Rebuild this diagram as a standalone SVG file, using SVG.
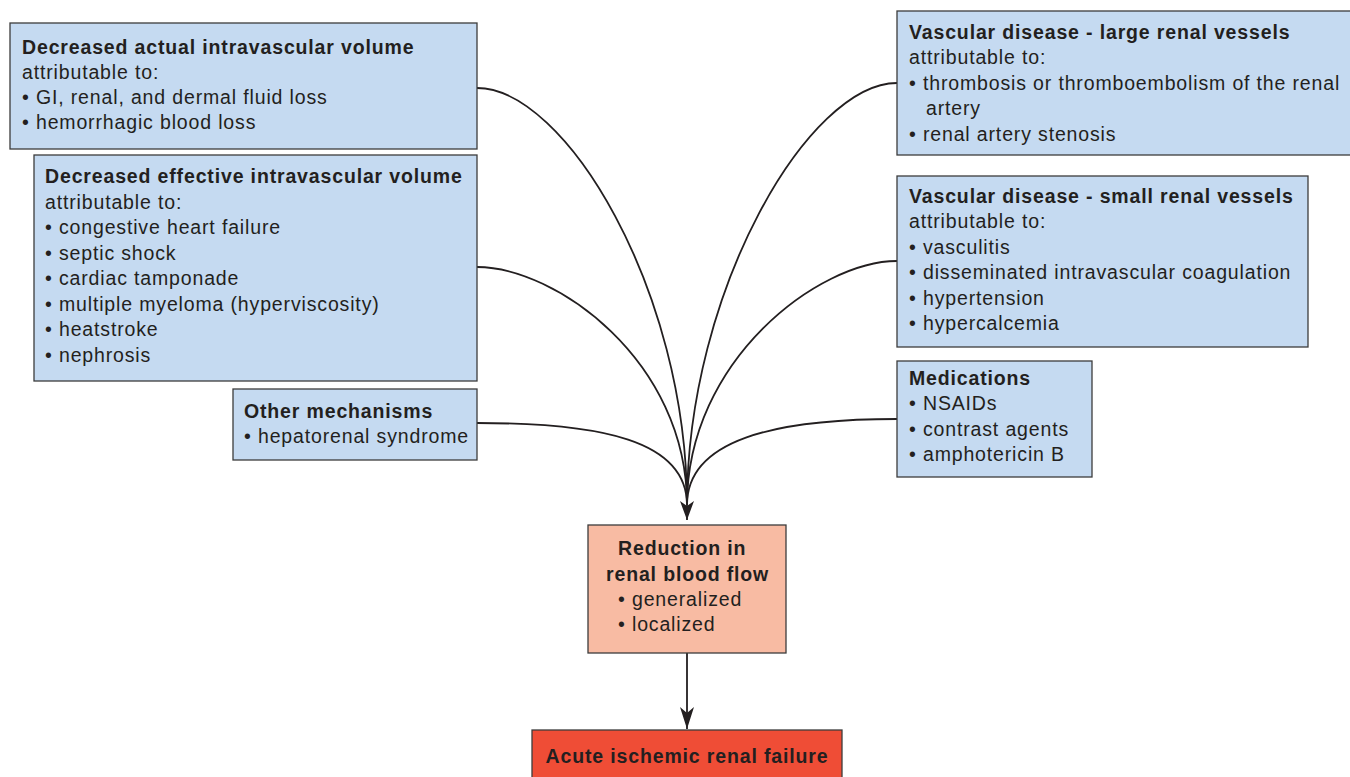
<svg xmlns="http://www.w3.org/2000/svg" width="1350" height="777" viewBox="0 0 1350 777">
<defs>
<style>
.box{fill:#c5daf1;stroke:#3c3c3c;stroke-width:1.3}
.mid{fill:#f8bba3;stroke:#3c3c3c;stroke-width:1.3}
.end{fill:#ef4d36;stroke:#3c3c3c;stroke-width:1.3}
text{font-family:"Liberation Sans",Arial,Helvetica,sans-serif;font-size:19.5px;letter-spacing:0.85px;fill:#231f20}
.b{font-weight:bold}
.c{fill:none;stroke:#231f20;stroke-width:1.8}
</style>
<marker id="ah" viewBox="0 0 22 14" refX="22" refY="7" markerWidth="22" markerHeight="14" markerUnits="userSpaceOnUse" orient="auto">
<path d="M22,7 L0,0 L6,7 L0,14 Z" fill="#231f20"/>
</marker>
<marker id="ah2" viewBox="0 0 19 14" refX="19" refY="7" markerWidth="19" markerHeight="14" markerUnits="userSpaceOnUse" orient="auto">
<path d="M19,7 L0,0 L5,7 L0,14 Z" fill="#231f20"/>
</marker>
</defs>
<rect width="1350" height="777" fill="#ffffff"/>

<g id="connectors">
<path class="c" d="M477,88 C565,88 687,290 687,505"/>
<path class="c" d="M477,267 C555,267 687,360 687,505"/>
<path class="c" d="M477,423 C600,423 687,440 687,505"/>
<path class="c" d="M897,83 C809,83 687,290 687,505"/>
<path class="c" d="M897,261 C819,261 687,360 687,505"/>
<path class="c" d="M897,419 C774,419 687,440 687,505"/>
<path class="c" d="M687,498 L687,520" marker-end="url(#ah2)"/>
<path class="c" d="M687,653 L687,729" marker-end="url(#ah)"/>
</g>

<g id="actual-volume">
<rect class="box" x="10" y="23" width="467" height="126"/>
<text class="b" x="22" y="54">Decreased actual intravascular volume</text>
<text x="22" y="79">attributable to:</text>
<text x="22" y="104">• GI, renal, and dermal fluid loss</text>
<text x="22" y="129">• hemorrhagic blood loss</text>
</g>

<g id="effective-volume">
<rect class="box" x="34" y="155" width="443" height="226"/>
<text class="b" x="45" y="183">Decreased effective intravascular volume</text>
<text x="45" y="208.5">attributable to:</text>
<text x="45" y="234">• congestive heart failure</text>
<text x="45" y="259.5">• septic shock</text>
<text x="45" y="285">• cardiac tamponade</text>
<text x="45" y="310.5">• multiple myeloma (hyperviscosity)</text>
<text x="45" y="336">• heatstroke</text>
<text x="45" y="361.5">• nephrosis</text>
</g>

<g id="other-mechanisms">
<rect class="box" x="233" y="389" width="244" height="71"/>
<text class="b" x="244" y="418">Other mechanisms</text>
<text x="244" y="443">• hepatorenal syndrome</text>
</g>

<g id="large-vessels">
<rect class="box" x="897" y="11" width="460" height="144"/>
<text class="b" x="909" y="38.5">Vascular disease - large renal vessels</text>
<text x="909" y="64">attributable to:</text>
<text x="909" y="89.5">• thrombosis or thromboembolism of the renal</text>
<text x="926" y="115">artery</text>
<text x="909" y="140.5">• renal artery stenosis</text>
</g>

<g id="small-vessels">
<rect class="box" x="897" y="176" width="411" height="171"/>
<text class="b" x="909" y="202.5">Vascular disease - small renal vessels</text>
<text x="909" y="228">attributable to:</text>
<text x="909" y="253.5">• vasculitis</text>
<text x="909" y="279">• disseminated intravascular coagulation</text>
<text x="909" y="304.5">• hypertension</text>
<text x="909" y="330">• hypercalcemia</text>
</g>

<g id="medications">
<rect class="box" x="897" y="361" width="195" height="116"/>
<text class="b" x="909" y="384.5">Medications</text>
<text x="909" y="410">• NSAIDs</text>
<text x="909" y="435.5">• contrast agents</text>
<text x="909" y="461">• amphotericin B</text>
</g>

<g id="reduction">
<rect class="mid" x="588" y="525" width="198" height="128"/>
<text class="b" x="618" y="554.5">Reduction in</text>
<text class="b" x="606" y="580.5">renal blood flow</text>
<text x="618" y="605.5">• generalized</text>
<text x="618" y="631">• localized</text>
</g>

<g id="failure">
<rect class="end" x="532" y="730" width="310" height="60"/>
<text class="b" x="687" y="762.5" text-anchor="middle">Acute ischemic renal failure</text>
</g>
</svg>
